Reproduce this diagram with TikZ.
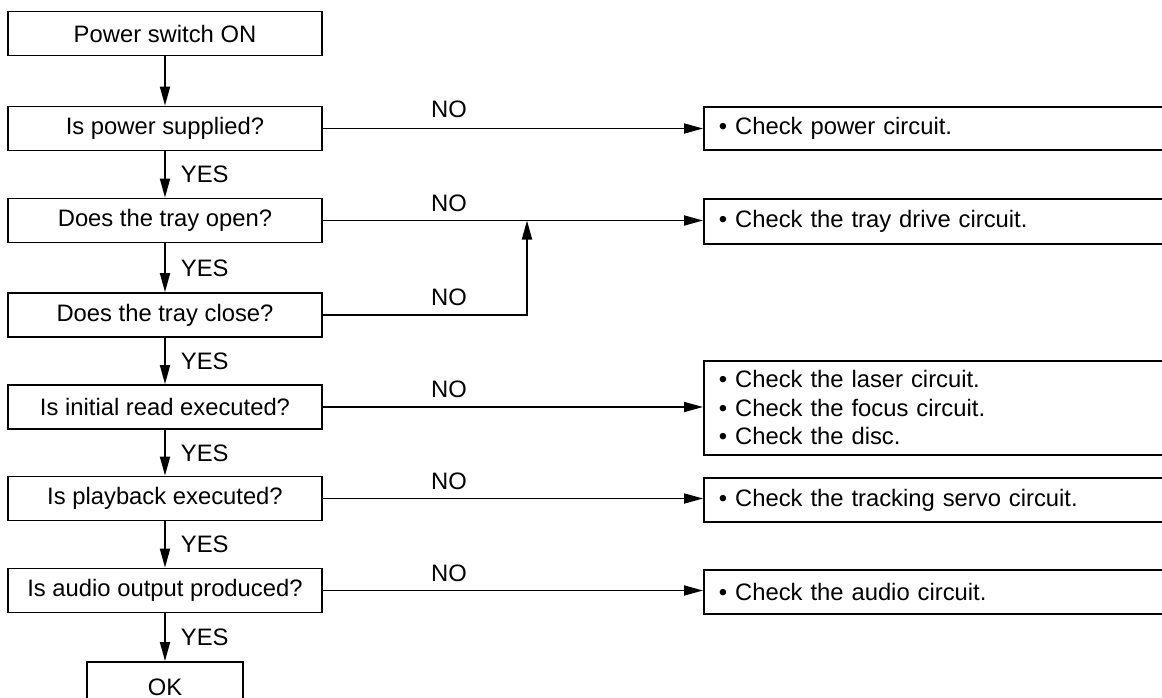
\documentclass[tikz,border=0pt]{standalone}
\usepackage{fontspec}
\setmainfont{Liberation Sans}
\usetikzlibrary{arrows.meta}
\begin{document}
\begin{tikzpicture}[x=1pt,y=-1pt, line width=1.8pt,
  font=\fontsize{23.8}{28.5}\selectfont,
  qbox/.style={draw, minimum width=314pt, minimum height=44pt, inner sep=0pt},
  rbox/.style={draw, anchor=north west, text width=440pt, inner xsep=15pt, inner ysep=0pt, align=left},
  arr/.style={-{Triangle[length=19pt,width=10pt]}},
  lbl/.style={inner sep=0pt}]
\useasboundingbox (0,0) rectangle (1162,698);
\clip (0,0) rectangle (1162,698);
\fill[white] (0,0) rectangle (1162,698);

% left column
\node[qbox] (b1) at (165,33.5) {Power switch ON};
\node[qbox] (b2) at (165,128.5) {Is power supplied?};
\node[qbox] (b3) at (165,220.5) {Does the tray open?};
\node[qbox] (b4) at (165,315) {Does the tray close?};
\node[qbox] (b5) at (165,407) {Is initial read executed?};
\node[qbox] (b6) at (165,498.5) {Is playback executed?};
\node[qbox] (b7) at (165,590.5) {Is audio output produced?};
\node[draw, minimum width=156pt, minimum height=50pt, inner sep=0pt, anchor=north] (ok) at (165,661) {OK};

% right column
\node[rbox, minimum height=43pt] (r1) at (703,106) {\textbullet\ Check power circuit.};
\node[rbox, minimum height=45pt] (r2) at (703,198) {\textbullet\ Check the tray drive circuit.};
\node[rbox, minimum height=94pt] (r3) at (703,360) {\textbullet\ Check the laser circuit.\\ \textbullet\ Check the focus circuit.\\ \textbullet\ Check the disc.};
\node[rbox, minimum height=44pt] (r4) at (703,477) {\textbullet\ Check the tracking servo circuit.};
\node[rbox, minimum height=44pt] (r5) at (703,569) {\textbullet\ Check the audio circuit.};

% vertical flow
\draw[arr] (b1) -- (b2);
\draw[arr] (b2) -- (b3);
\draw[arr] (b3) -- (b4);
\draw[arr] (b4) -- (b5);
\draw[arr] (b5) -- (b6);
\draw[arr] (b6) -- (b7);
\draw[arr] (b7) -- (ok);

\node[lbl, anchor=west] (y1) at (180,174) {YES};
\node[lbl, anchor=west] (y2) at (180,268) {YES};
\node[lbl, anchor=west] (y3) at (180,361) {YES};
\node[lbl, anchor=west] (y4) at (180,453) {YES};
\node[lbl, anchor=west] (y5) at (180,544) {YES};
\node[lbl, anchor=west] (y6) at (180,637) {YES};

% NO branches
\draw[arr] (b2.east) -- (b2.east -| r1.west);
\draw[arr] (b3.east) -- (b3.east -| r2.west);
\coordinate (j) at (527,220.5);
\draw[arr] (b4.east) -| (j);
\draw[arr] (b5.east) -- (b5.east -| r3.west);
\draw[arr] (b6.east) -- (b6.east -| r4.west);
\draw[arr] (b7.east) -- (b7.east -| r5.west);

\node[lbl, anchor=base] (n1) at (449,118) {NO};
\node[lbl, anchor=base] (n2) at (449,211) {NO};
\node[lbl, anchor=base] (n3) at (449,305) {NO};
\node[lbl, anchor=base] (n4) at (449,397) {NO};
\node[lbl, anchor=base] (n5) at (449,489) {NO};
\node[lbl, anchor=base] (n6) at (449,581) {NO};
\end{tikzpicture}
\end{document}
